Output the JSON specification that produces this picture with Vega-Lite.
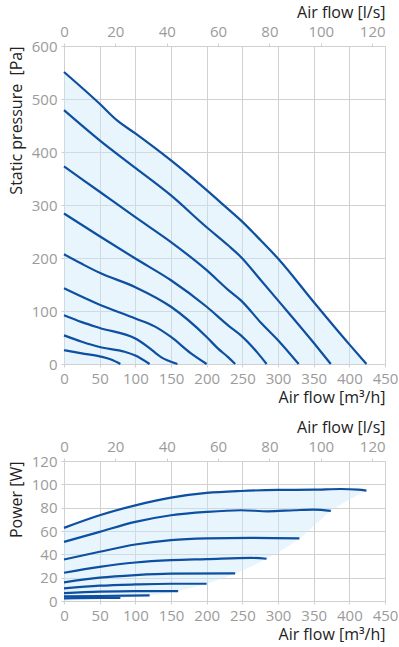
{
  "$schema": "https://vega.github.io/schema/vega-lite/v6.json",
  "background": "white",
  "padding": {"left": 8, "top": 4, "right": 0, "bottom": 0},
  "config": {
    "view": {"stroke": null},
    "font": "Open Sans",
    "axis": {
      "labelFont": "Open Sans", "labelFontSize": 15, "labelColor": "#9b9b9b",
      "titleFont": "Open Sans", "titleFontSize": 16, "titleFontWeight": "normal", "titleColor": "#222222",
      "gridColor": "#d0d0d0", "domainColor": "#d0d0d0", "tickColor": "#d0d0d0",
      "tickSize": 3, "labelPadding": 4, "labelOverlap": false, "labelFlush": false
    }
  },
  "spacing": 14,
  "datasets": {
    "pressure": [
      {"curve": "c1", "q": 0, "p": 551}, {"curve": "c1", "q": 50, "p": 491}, {"curve": "c1", "q": 74, "p": 460}, {"curve": "c1", "q": 100, "p": 435}, {"curve": "c1", "q": 150, "p": 384}, {"curve": "c1", "q": 200, "p": 328}, {"curve": "c1", "q": 227, "p": 296}, {"curve": "c1", "q": 248, "p": 271}, {"curve": "c1", "q": 276, "p": 233}, {"curve": "c1", "q": 300, "p": 199}, {"curve": "c1", "q": 350, "p": 117}, {"curve": "c1", "q": 400, "p": 37}, {"curve": "c1", "q": 424, "p": 0},
      {"curve": "c2", "q": 0, "p": 479}, {"curve": "c2", "q": 50, "p": 422}, {"curve": "c2", "q": 100, "p": 370}, {"curve": "c2", "q": 150, "p": 318}, {"curve": "c2", "q": 200, "p": 258}, {"curve": "c2", "q": 230, "p": 224}, {"curve": "c2", "q": 248, "p": 202}, {"curve": "c2", "q": 276, "p": 158}, {"curve": "c2", "q": 300, "p": 120}, {"curve": "c2", "q": 350, "p": 40}, {"curve": "c2", "q": 374, "p": 0},
      {"curve": "c3", "q": 0, "p": 373}, {"curve": "c3", "q": 50, "p": 325}, {"curve": "c3", "q": 100, "p": 277}, {"curve": "c3", "q": 150, "p": 230}, {"curve": "c3", "q": 200, "p": 177}, {"curve": "c3", "q": 230, "p": 140}, {"curve": "c3", "q": 248, "p": 120}, {"curve": "c3", "q": 276, "p": 78}, {"curve": "c3", "q": 300, "p": 45}, {"curve": "c3", "q": 329, "p": 0},
      {"curve": "c4", "q": 0, "p": 284}, {"curve": "c4", "q": 50, "p": 241}, {"curve": "c4", "q": 100, "p": 199}, {"curve": "c4", "q": 150, "p": 158}, {"curve": "c4", "q": 200, "p": 108}, {"curve": "c4", "q": 230, "p": 73}, {"curve": "c4", "q": 248, "p": 54}, {"curve": "c4", "q": 272, "p": 20}, {"curve": "c4", "q": 284, "p": 0},
      {"curve": "c5", "q": 0, "p": 207}, {"curve": "c5", "q": 25, "p": 189}, {"curve": "c5", "q": 50, "p": 172}, {"curve": "c5", "q": 100, "p": 145}, {"curve": "c5", "q": 150, "p": 108}, {"curve": "c5", "q": 200, "p": 51}, {"curve": "c5", "q": 216, "p": 29}, {"curve": "c5", "q": 230, "p": 13}, {"curve": "c5", "q": 240, "p": 0},
      {"curve": "c6", "q": 0, "p": 143}, {"curve": "c6", "q": 50, "p": 112}, {"curve": "c6", "q": 100, "p": 86}, {"curve": "c6", "q": 127, "p": 71}, {"curve": "c6", "q": 150, "p": 51}, {"curve": "c6", "q": 178, "p": 20}, {"curve": "c6", "q": 200, "p": 0},
      {"curve": "c7", "q": 0, "p": 92}, {"curve": "c7", "q": 25, "p": 79}, {"curve": "c7", "q": 50, "p": 68}, {"curve": "c7", "q": 100, "p": 48}, {"curve": "c7", "q": 118, "p": 32}, {"curve": "c7", "q": 136, "p": 13}, {"curve": "c7", "q": 159, "p": 0},
      {"curve": "c8", "q": 0, "p": 54}, {"curve": "c8", "q": 25, "p": 42}, {"curve": "c8", "q": 50, "p": 32}, {"curve": "c8", "q": 85, "p": 23}, {"curve": "c8", "q": 100, "p": 16}, {"curve": "c8", "q": 120, "p": 0},
      {"curve": "c9", "q": 0, "p": 26}, {"curve": "c9", "q": 25, "p": 20}, {"curve": "c9", "q": 50, "p": 14.5}, {"curve": "c9", "q": 67, "p": 8}, {"curve": "c9", "q": 79, "p": 0}
    ],
    "power": [
      {"curve": "p1", "q": 0, "w": 62.7}, {"curve": "p1", "q": 50, "w": 73.5}, {"curve": "p1", "q": 100, "w": 82}, {"curve": "p1", "q": 150, "w": 88.6}, {"curve": "p1", "q": 200, "w": 92.6}, {"curve": "p1", "q": 248, "w": 94.3}, {"curve": "p1", "q": 300, "w": 95.2}, {"curve": "p1", "q": 350, "w": 95.4}, {"curve": "p1", "q": 388, "w": 96}, {"curve": "p1", "q": 412, "w": 95.4}, {"curve": "p1", "q": 424, "w": 94.6},
      {"curve": "p2", "q": 0, "w": 50.7}, {"curve": "p2", "q": 50, "w": 59.3}, {"curve": "p2", "q": 100, "w": 67.8}, {"curve": "p2", "q": 150, "w": 73.5}, {"curve": "p2", "q": 200, "w": 76.4}, {"curve": "p2", "q": 248, "w": 77.8}, {"curve": "p2", "q": 286, "w": 76.9}, {"curve": "p2", "q": 323, "w": 77.8}, {"curve": "p2", "q": 350, "w": 78.3}, {"curve": "p2", "q": 374, "w": 77.2},
      {"curve": "p3", "q": 0, "w": 35.6}, {"curve": "p3", "q": 50, "w": 42.2}, {"curve": "p3", "q": 100, "w": 48.4}, {"curve": "p3", "q": 150, "w": 52.1}, {"curve": "p3", "q": 200, "w": 53.6}, {"curve": "p3", "q": 262, "w": 54.1}, {"curve": "p3", "q": 330, "w": 53.6},
      {"curve": "p4", "q": 0, "w": 24.2}, {"curve": "p4", "q": 50, "w": 29.3}, {"curve": "p4", "q": 100, "w": 33}, {"curve": "p4", "q": 150, "w": 35}, {"curve": "p4", "q": 200, "w": 35.9}, {"curve": "p4", "q": 262, "w": 37}, {"curve": "p4", "q": 284, "w": 36.2},
      {"curve": "p5", "q": 0, "w": 16}, {"curve": "p5", "q": 50, "w": 20}, {"curve": "p5", "q": 100, "w": 22.2}, {"curve": "p5", "q": 150, "w": 23.4}, {"curve": "p5", "q": 240, "w": 23.6},
      {"curve": "p6", "q": 0, "w": 10.8}, {"curve": "p6", "q": 50, "w": 13.1}, {"curve": "p6", "q": 100, "w": 14.2}, {"curve": "p6", "q": 150, "w": 14.8}, {"curve": "p6", "q": 200, "w": 14.8},
      {"curve": "p7", "q": 0, "w": 6.8}, {"curve": "p7", "q": 50, "w": 8}, {"curve": "p7", "q": 100, "w": 8.5}, {"curve": "p7", "q": 160, "w": 8.5},
      {"curve": "p8", "q": 0, "w": 4}, {"curve": "p8", "q": 50, "w": 4.3}, {"curve": "p8", "q": 120, "w": 4.8},
      {"curve": "p9", "q": 0, "w": 2.3}, {"curve": "p9", "q": 50, "w": 2.6}, {"curve": "p9", "q": 79, "w": 2.6}
    ],
    "powerfill": [
      {"q": 0, "top": 62.7, "bottom": 0}, {"q": 50, "top": 73.5, "bottom": 1.7}, {"q": 79, "top": 78.3, "bottom": 2.6}, {"q": 100, "top": 82, "bottom": 3.7}, {"q": 120, "top": 84.8, "bottom": 4.8}, {"q": 150, "top": 88.6, "bottom": 7.3}, {"q": 160, "top": 89.5, "bottom": 8.5}, {"q": 200, "top": 92.6, "bottom": 14.8}, {"q": 240, "top": 94, "bottom": 23.6}, {"q": 284, "top": 95, "bottom": 36.2}, {"q": 330, "top": 95.3, "bottom": 53.6}, {"q": 374, "top": 95.8, "bottom": 77}, {"q": 424, "top": 94.6, "bottom": 94.6}
    ],
    "range": [{"q": 0}, {"q": 450}]
  },
  "vconcat": [
    {
      "width": 321, "height": 318,
      "layer": [
        {
          "data": {"name": "pressure"},
          "transform": [{"filter": "datum.curve === 'c1'"}],
          "mark": {"type": "area", "color": "#cfe8fb", "opacity": 0.45, "interpolate": "monotone"},
          "encoding": {
            "x": {"field": "q", "type": "quantitative", "scale": {"domain": [0, 450], "nice": false},
                  "axis": {"orient": "bottom", "grid": true, "values": [0, 50, 100, 150, 200, 250, 300, 350, 400, 450], "title": "Air flow [m³/h]", "titleAnchor": "end", "titlePadding": 3}},
            "y": {"field": "p", "type": "quantitative", "scale": {"domain": [0, 600], "nice": false},
                  "axis": {"grid": true, "values": [0, 100, 200, 300, 400, 500, 600], "title": "Static pressure\u00a0 [Pa]", "titleAnchor": "end", "titlePadding": 7}}
          }
        },
        {
          "data": {"name": "pressure"},
          "mark": {"type": "line", "color": "#0d4fa0", "strokeWidth": 2.2, "interpolate": "monotone"},
          "encoding": {
            "x": {"field": "q", "type": "quantitative", "axis": null},
            "y": {"field": "p", "type": "quantitative",
                  "axis": {"grid": true, "values": [0, 100, 200, 300, 400, 500, 600], "title": "Static pressure\u00a0 [Pa]", "titleAnchor": "end", "titlePadding": 7}},
            "detail": {"field": "curve"}
          }
        },
        {
          "data": {"name": "range"},
          "mark": {"type": "point", "opacity": 0, "size": 1},
          "encoding": {
            "x": {"field": "q", "type": "quantitative",
                  "axis": {"orient": "top", "grid": false, "values": [0, 72, 144, 216, 288, 360, 432], "labelExpr": "format(datum.value / 3.6, 'd')", "title": "Air flow [l/s]", "titleAnchor": "end", "titlePadding": 4}}
          }
        }
      ],
      "resolve": {"axis": {"x": "independent"}}
    },
    {
      "width": 321, "height": 140,
      "layer": [
        {
          "data": {"name": "powerfill"},
          "mark": {"type": "area", "color": "#cfe8fb", "opacity": 0.45, "interpolate": "monotone"},
          "encoding": {
            "x": {"field": "q", "type": "quantitative", "scale": {"domain": [0, 450], "nice": false},
                  "axis": {"orient": "bottom", "grid": true, "values": [0, 50, 100, 150, 200, 250, 300, 350, 400, 450], "title": "Air flow [m³/h]", "titleAnchor": "end", "titlePadding": 3}},
            "y": {"field": "top", "type": "quantitative", "scale": {"domain": [0, 120], "nice": false},
                  "axis": {"grid": true, "values": [0, 20, 40, 60, 80, 100, 120], "title": "Power [W]", "titleAnchor": "end", "titlePadding": 7}},
            "y2": {"field": "bottom"}
          }
        },
        {
          "data": {"name": "power"},
          "mark": {"type": "line", "color": "#0d4fa0", "strokeWidth": 2.2, "interpolate": "monotone"},
          "encoding": {
            "x": {"field": "q", "type": "quantitative", "axis": null},
            "y": {"field": "w", "type": "quantitative",
                  "axis": {"grid": true, "values": [0, 20, 40, 60, 80, 100, 120], "title": "Power [W]", "titleAnchor": "end", "titlePadding": 7}},
            "detail": {"field": "curve"}
          }
        },
        {
          "data": {"name": "range"},
          "mark": {"type": "point", "opacity": 0, "size": 1},
          "encoding": {
            "x": {"field": "q", "type": "quantitative",
                  "axis": {"orient": "top", "grid": false, "values": [0, 72, 144, 216, 288, 360, 432], "labelExpr": "format(datum.value / 3.6, 'd')", "title": "Air flow [l/s]", "titleAnchor": "end", "titlePadding": 4}}
          }
        }
      ],
      "resolve": {"axis": {"x": "independent"}}
    }
  ]
}
